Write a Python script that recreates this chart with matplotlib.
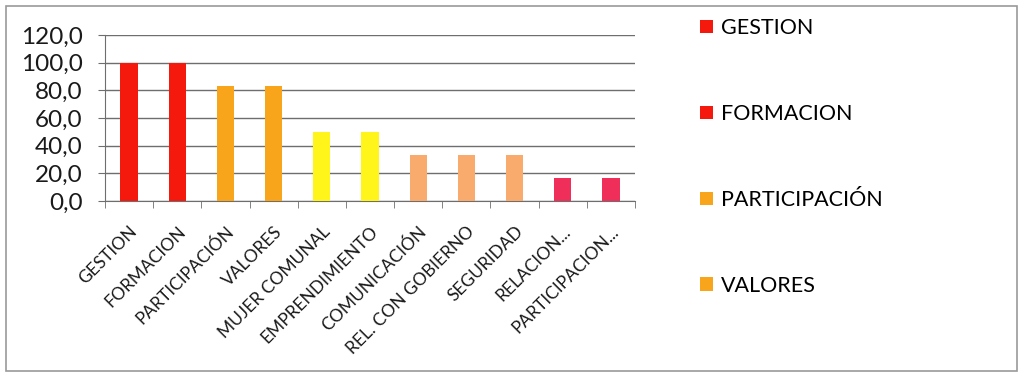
import matplotlib
matplotlib.use("Agg")
import matplotlib.pyplot as plt
from matplotlib.patches import Rectangle, Patch

categories = ["GESTION", "FORMACION", "PARTICIPACIÓN", "VALORES", "MUJER COMUNAL",
              "EMPRENDIMIENTO", "COMUNICACIÓN", "REL. CON GOBIERNO", "SEGURIDAD",
              "RELACION...", "PARTICIPACION..."]
values = [100.0, 100.0, 83.3, 83.3, 50.0, 50.0, 33.3, 33.3, 33.3, 16.7, 16.7]
colors = ["#F5180C", "#F5180C", "#F8A51C", "#F8A51C", "#FFF51A", "#FFF51A",
          "#F9AB6E", "#F9AB6E", "#F9AB6E", "#EF2F5A", "#EF2F5A"]
legend_labels = ["GESTION", "FORMACION", "PARTICIPACIÓN", "VALORES"]
yticks = [0, 20, 40, 60, 80, 100, 120]
ytick_labels = ["0,0", "20,0", "40,0", "60,0", "80,0", "100,0", "120,0"]

plt.rcParams['font.family'] = ['Lato', 'DejaVu Sans']

W, H = 1023, 373
fig = plt.figure(figsize=(W / 100, H / 100), dpi=100)

# outer frame
fig.patches.append(Rectangle((6 / W, 2 / H), (1017 - 6) / W, (367 - 2) / H,
                             transform=fig.transFigure, fill=False,
                             edgecolor="#9a9a9a", linewidth=1.2))

x0, x1 = 105, 635
y_top, y_bot = 35, 201
ax = fig.add_axes([x0 / W, 1 - y_bot / H, (x1 - x0) / W, (y_bot - y_top) / H])

xs = list(range(len(categories)))
ax.bar(xs, values, width=0.36, color=colors, zorder=3)
ax.set_xlim(-0.5, len(categories) - 0.5)
ax.set_ylim(0, 120)
ax.set_yticks(yticks)
ax.set_yticklabels(ytick_labels, fontsize=17.5, color="#1a1a1a")
ax.yaxis.grid(True, color="#6e6e6e", linewidth=1.0, zorder=0)
ax.set_axisbelow(True)

ax.set_xticks([i - 0.5 for i in range(len(categories) + 1)], minor=True)
ax.set_xticks(xs)
ax.set_xticklabels(categories, rotation=45, ha="right", va="top",
                   rotation_mode="anchor", fontsize=12.5, color="#1a1a1a")
ax.tick_params(axis="x", which="major", length=0, pad=16)
ax.tick_params(axis="x", which="minor", length=5, color="#6e6e6e", direction="out")
ax.tick_params(axis="y", length=5, color="#6e6e6e", pad=11)

for s in ["top", "right"]:
    ax.spines[s].set_visible(False)
ax.spines["left"].set_color("#6e6e6e")
ax.spines["bottom"].set_color("#6e6e6e")

handles = [Patch(facecolor=colors[i], edgecolor="none") for i in range(4)]
fig.legend(handles, legend_labels, loc="upper left",
           bbox_to_anchor=(685 / W, 1 - 3 / H), frameon=False, borderpad=0.2,
           fontsize=15.5, labelspacing=3.06, handlelength=0.58, handleheight=0.58,
           handletextpad=0.4)

fig.savefig("out.png", dpi=100)
